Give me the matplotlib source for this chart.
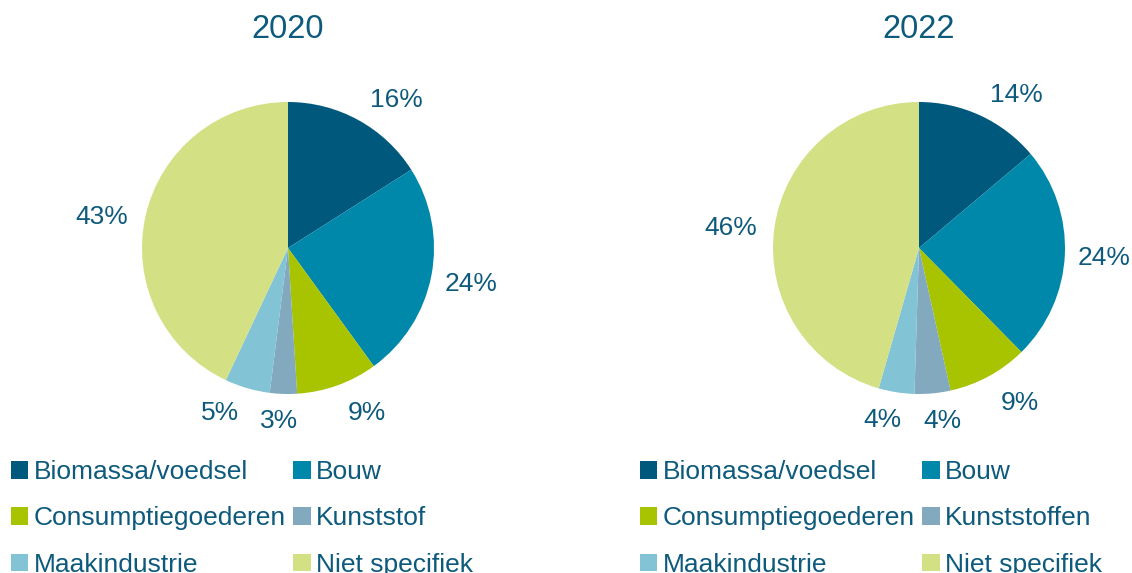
import matplotlib.pyplot as plt
from matplotlib.patches import Patch

plt.rcParams['font.family'] = ['Liberation Sans', 'DejaVu Sans']

# data
years = ["2020", "2022"]
cats_2020 = ["Biomassa/voedsel", "Bouw", "Consumptiegoederen", "Kunststof",
             "Maakindustrie", "Niet specifiek"]
cats_2022 = ["Biomassa/voedsel", "Bouw", "Consumptiegoederen", "Kunststoffen",
             "Maakindustrie", "Niet specifiek"]
vals_2020 = [16, 24, 9, 3, 5, 43]
vals_2022 = [14, 24, 9, 4, 4, 46]

colors = ["#00587C", "#0088AA", "#A8C300", "#82A9BD", "#82C3D5", "#D3E084"]
txt = "#0E5A7C"

# small nudges (px, x right / y down) for the % labels, like Excel's best fit
nudge_2020 = [(20, 12), (4, 2), (17, -7), (-3, -9), (-17, -10), (-8, 9)]
nudge_2022 = [(20, 12), (3, 1), (14, -5), (6, -9), (-8, -8), (-8, 5)]

W, H = 1132, 573
fig = plt.figure(figsize=(W / 100, H / 100), dpi=100)

R = 146  # pie radius in px
half = 1.5 * R  # axes half-size in px (limits are +-1.5)


def draw_pie(cx, cy, vals, cats, year, legend_x, nudge):
    ax = fig.add_axes([(cx - half) / W, (H - cy - half) / H, 2 * half / W, 2 * half / H])
    labels = [f"{v}%" for v in vals]
    wedges, texts = ax.pie(vals, colors=colors, startangle=90, counterclock=False,
                           labels=labels, labeldistance=1.25,
                           wedgeprops=dict(linewidth=0))
    for t, (dx, dy) in zip(texts, nudge):
        x, y = t.get_position()
        t.set_position((x + dx / R, y - dy / R))
        t.set_ha("center")
        t.set_va("center")
        t.set_fontsize(19)
        t.set_color(txt)
    ax.set_xlim(-1.5, 1.5)
    ax.set_ylim(-1.5, 1.5)
    ax.set_aspect("equal")
    ax.axis("off")
    fig.text(cx / W, 1 - 30 / H, year, ha="center", va="center", fontsize=23.5, color=txt)

    # legend filled row by row (matplotlib fills columns first)
    order = [0, 2, 4, 1, 3, 5]
    handles = [Patch(facecolor=colors[i], edgecolor="none") for i in order]
    fig.legend(handles, [cats[i] for i in order], loc="upper left", ncol=2,
               bbox_to_anchor=(legend_x / W, 1 - 460 / H), frameon=False,
               fontsize=19, labelcolor=txt, handlelength=0.65, handleheight=0.65,
               handletextpad=0.2, columnspacing=0.3, labelspacing=0.85,
               borderaxespad=0, borderpad=0)


draw_pie(288, 248, vals_2020, cats_2020, years[0], 11, nudge_2020)
draw_pie(919, 248, vals_2022, cats_2022, years[1], 640, nudge_2022)

fig.savefig("out.png", dpi=100)
